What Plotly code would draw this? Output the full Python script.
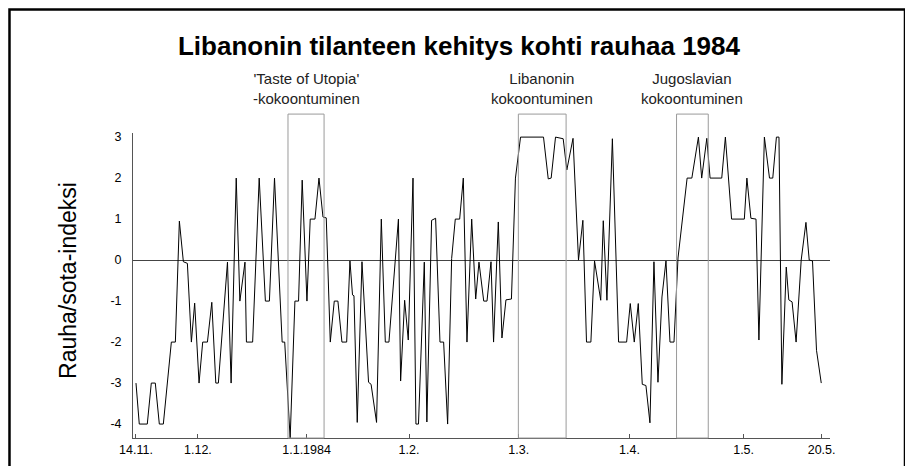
import plotly.graph_objects as go

# time axis: days since 14.11.1983
days = [0.0, 0.9, 3.1, 4.2, 5.3, 6.4, 7.5, 9.7, 10.8, 11.9, 13.0, 14.1, 15.2, 16.1, 17.3, 18.3,
        19.6, 20.8, 21.9, 22.6, 25.1, 26.1, 27.5, 28.5, 29.9, 30.3, 32.0, 33.8, 35.5, 36.6,
        38.0, 40.1, 40.8, 42.3, 43.6, 44.6, 45.6, 46.9, 47.8, 49.1, 50.2, 51.3, 52.2, 53.3,
        54.4, 55.4, 56.5, 57.8, 58.7, 59.4, 59.8, 60.7, 62.0, 63.8, 64.5, 66.0, 67.3, 68.4,
        69.4, 72.0, 72.6, 73.7, 74.7, 76.0, 76.8, 77.5, 79.1, 79.8, 81.1, 82.2, 83.4, 84.4,
        85.5, 86.6, 87.6, 88.8, 89.8, 90.8, 92.1, 93.2, 94.1, 95.4, 96.3, 97.4, 98.1, 99.4,
        100.4, 101.5, 103.0, 104.1, 105.5, 111.8, 113.1, 113.9, 115.1, 117.2, 118.2, 119.9,
        121.4, 122.6, 123.6, 124.8, 125.8, 127.5, 128.2, 129.2, 130.7, 132.4, 134.6, 135.6,
        136.7, 137.8, 138.9, 139.9, 141.0, 142.1, 143.2, 144.3, 145.4, 146.5, 147.6, 148.7,
        151.2, 152.5, 154.3, 155.2, 156.6, 157.5, 160.7, 161.7, 163.4, 166.9, 167.6, 168.7,
        170.1, 170.9, 172.4, 173.8, 174.7, 175.7, 176.4, 177.2, 178.4, 179.1, 180.0, 181.1,
        182.5, 183.8, 184.7, 185.6, 186.7, 188.0]

# peace/war index values
index_values = [-3, -4, -4, -3, -3, -4, -4, -2, -2, 0.95, -0.04, -0.08, -2, -1.05, -3, -2,
                -2, -1.03, -3, -3, -0.05, -3, 2, -1, -0.05, -2, -2, 2, -1, -1,
                2, -2, -2, -4.35, -1, -1, 1.95, -1, 1, 1, 2, 1.05, 1.03, -2,
                -1, -1, -2, -2, -0.02, -0.85, -0.87, -3.96, -0.04, -2.98, -3.03, -3.96, 1, -2,
                -2, 1, -2.95, -0.98, -1.95, 2, -4, -4, -0.05, -3.95, 0.97, 1.02, -2, -2,
                -4, 0.04, 1, 1, 2, -2, 1, -0.95, -0.05, -1, -1, -0.04, -2, 0.93,
                -1.9, -0.97, -0.95, 2, 3, 3, 1.98, 2, 3, 2.96, 2.2, 2.97,
                0, 0.97, -2, -2, -0.02, -0.98, 0.96, -0.98, 2.96, -2, -2, -1.06,
                -2, -1.06, -3.03, -3.06, -3.97, -0.04, -2.98, -0.9, -0.02, -2, -2, 0.05,
                2, 2, 3, 2, 2.97, 2, 2, 3, 1, 1, 2, 1.02,
                1, -1.95, 3, 2, 2, 3, 3, -3.03, -0.17, -0.97, -1.02, -2,
                0, 0.92, 0, -0.02, -2.2, -3]

tick_days = [0, 17.0, 46.8, 74.9, 105.0, 135.4, 166.7, 188.1]
tick_labels = ["14.11.", "1.12.", "1.1.1984", "1.2.", "1.3.", "1.4.", "1.5.", "20.5."]

event_names = ["'Taste of Utopia'<br>-kokoontuminen", "Libanonin<br>kokoontuminen",
               "Jugoslavian<br>kokoontuminen"]
event_start = [41.7, 104.9, 148.3]
event_end = [51.6, 118.0, 157.0]

FONT = "Liberation Sans, Arial, sans-serif"

fig = go.Figure()
fig.add_trace(go.Scatter(x=days, y=index_values, mode="lines",
                         line=dict(color="black", width=1), hoverinfo="skip",
                         showlegend=False))

shapes = []
annotations = []
for name, s, e in zip(event_names, event_start, event_end):
    shapes.append(dict(type="rect", xref="x", yref="paper", x0=s, x1=e, y0=0, y1=1.062,
                       line=dict(color="#9a9a9a", width=1), layer="above"))
    annotations.append(dict(xref="x", yref="paper", x=(s + e) / 2, y=1.08,
                            yanchor="bottom", xanchor="center", text=name, showarrow=False,
                            font=dict(family=FONT, size=15, color="#222")))

# y-axis title
annotations.append(dict(xref="paper", yref="paper", x=-0.0933, y=0.518,
                        xanchor="center", yanchor="middle", textangle=-90,
                        text="Rauha/sota-indeksi", showarrow=False,
                        font=dict(family=FONT, size=23, color="black")))

# outer frame
shapes.append(dict(type="rect", xref="paper", yref="paper", x0=-0.1772, x1=1.1076,
                   y0=-0.3, y1=1.405, line=dict(color="black", width=2.5)))

fig.update_layout(
    width=913, height=466,
    margin=dict(l=125, r=91, t=125, b=36),
    paper_bgcolor="white", plot_bgcolor="white",
    title=dict(text="<b>Libanonin tilanteen kehitys kohti rauhaa 1984</b>",
               x=451 / 913, xref="container", xanchor="center", y=1 - 38 / 466,
               yanchor="middle",
               font=dict(family=FONT, size=26, color="black")),
    font=dict(family=FONT, size=12, color="black"),
    shapes=shapes, annotations=annotations,
    xaxis=dict(range=[-0.82, 190.4], tickvals=tick_days, ticktext=tick_labels,
               showgrid=False, zeroline=False, showline=True, linecolor="#555",
               linewidth=1, ticks="inside", ticklen=4, tickcolor="#555",
               tickfont=dict(size=12.5), fixedrange=True),
    yaxis=dict(range=[-4.34, 3.1], tickvals=[-4, -3, -2, -1, 0, 1, 2, 3],
               ticktext=["-4", "-3", "-2", "-1", "0", "1", "2", "3"],
               showgrid=False, zeroline=True, zerolinecolor="#444", zerolinewidth=1,
               showline=True, linecolor="#555", linewidth=1, ticks="",
               tickfont=dict(size=12.5), ticklabelstandoff=8,
               fixedrange=True),
)

fig.write_html("out.html")
